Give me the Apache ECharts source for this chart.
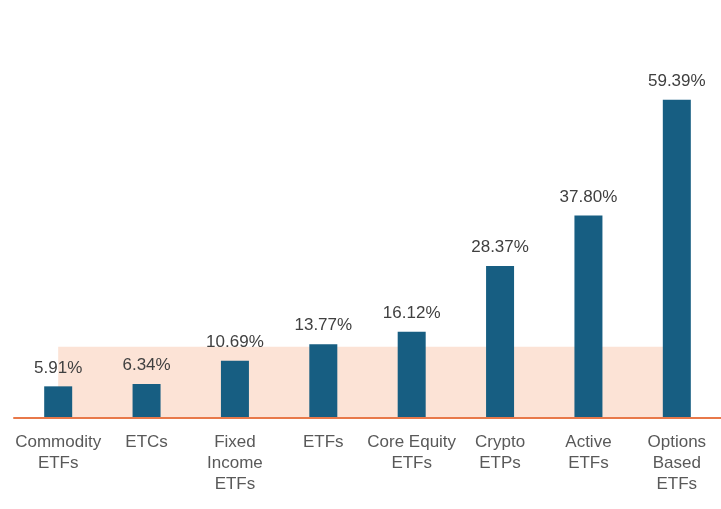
<!DOCTYPE html>
<html>
<head>
<meta charset="utf-8">
<script src="https://cdn.jsdelivr.net/npm/echarts@6/dist/echarts.min.js"></script>
<style>html,body{margin:0;padding:0;background:#fff}#c{width:721px;height:509px}</style>
</head>
<body>
<div id="c"></div>
<script>
const categories = ["Commodity\nETFs", "ETCs", "Fixed\nIncome\nETFs", "ETFs", "Core Equity\nETFs", "Crypto\nETPs", "Active\nETFs", "Options\nBased\nETFs"];
const values = [5.91, 6.34, 10.69, 13.77, 16.12, 28.37, 37.80, 59.39];
// background band (in category-index units on a hidden value axis, and y value units)
const bandStart = 0;
const bandEnd = 6.86;
const bandTop = 13.3;

const chart = echarts.init(document.getElementById('c'));
chart.setOption({
  animation: false,
  grid: { left: 14, right: 0, top: 43, height: 375 },
  xAxis: [
    {
      type: 'category',
      data: categories,
      axisLine: { show: true, lineStyle: { color: '#E8794A', width: 2 } },
      axisTick: { show: false },
      axisLabel: { color: '#595959', fontSize: 17, fontFamily: 'Liberation Sans, Arial, sans-serif', lineHeight: 21, margin: 14, interval: 0 },
      z: 5
    },
    {
      type: 'value', min: -0.5, max: 7.5, show: false
    }
  ],
  yAxis: {
    type: 'value', min: 0, max: 70, show: false, splitLine: { show: false }
  },
  series: [
    {
      type: 'line',
      xAxisIndex: 1,
      data: [],
      silent: true,
      z: 1,
      markArea: {
        silent: true,
        itemStyle: { color: '#FCE3D6' },
        data: [[{ xAxis: bandStart, yAxis: 0 }, { xAxis: bandEnd, yAxis: bandTop }]]
      }
    },
    {
      type: 'bar',
      data: values,
      barWidth: 28,
      z: 3,
      itemStyle: { color: '#175E82' },
      label: {
        show: true,
        position: 'top',
        distance: 10,
        color: '#404040',
        fontSize: 17,
        fontFamily: 'Liberation Sans, Arial, sans-serif',
        formatter: p => p.value.toFixed(2) + '%'
      }
    }
  ]
});
</script>
</body>
</html>
